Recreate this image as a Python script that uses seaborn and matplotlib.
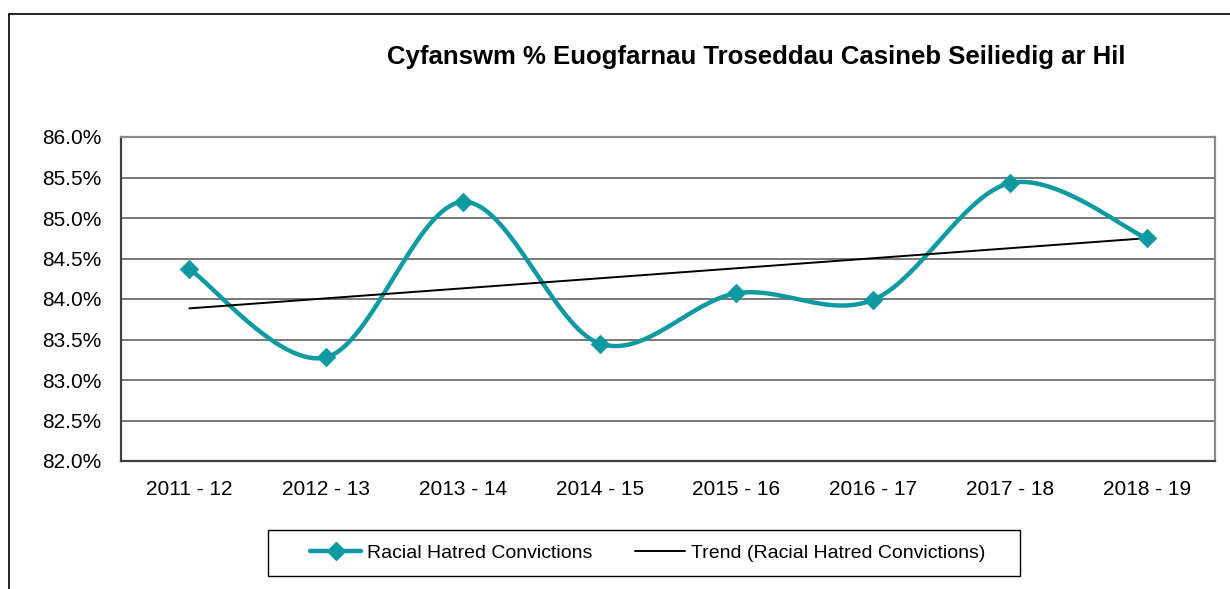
import matplotlib
matplotlib.use("Agg")
import matplotlib.pyplot as plt
from matplotlib.lines import Line2D
from matplotlib.patches import Rectangle
import numpy as np
import pandas as pd
import seaborn as sns

years = ["2011 - 12", "2012 - 13", "2013 - 14", "2014 - 15",
         "2015 - 16", "2016 - 17", "2017 - 18", "2018 - 19"]
convictions = [84.37, 83.28, 85.20, 83.45, 84.07, 83.99, 85.43, 84.75]
title = "Cyfanswm % Euogfarnau Troseddau Casineb Seiliedig ar Hil"
series_name = "Racial Hatred Convictions"
teal = "#0e9aa0"

sns.set_theme(style="white")
plt.rcParams['font.family'] = ['Liberation Sans', 'DejaVu Sans']
plt.rcParams['text.color'] = 'black'
plt.rcParams['xtick.color'] = 'black'
plt.rcParams['ytick.color'] = 'black'

df = pd.DataFrame({"idx": np.arange(len(years)), "pct": convictions})


# smooth curve like Excel's "smoothed line" (catmull-rom between the points)
def smooth(x, y, n=40):
    x = np.asarray(x, float)
    y = np.asarray(y, float)
    px = np.r_[x[0], x, x[-1]]
    py = np.r_[y[0], y, y[-1]]
    xs, ys = [], []
    for i in range(1, len(px) - 2):
        t = np.linspace(0, 1, n)
        bx = [px[i], px[i] + (px[i + 1] - px[i - 1]) / 6,
              px[i + 1] - (px[i + 2] - px[i]) / 6, px[i + 1]]
        by = [py[i], py[i] + (py[i + 1] - py[i - 1]) / 6,
              py[i + 1] - (py[i + 2] - py[i]) / 6, py[i + 1]]
        for b, out in ((bx, xs), (by, ys)):
            out.extend((1 - t) ** 3 * b[0] + 3 * (1 - t) ** 2 * t * b[1]
                       + 3 * (1 - t) * t ** 2 * b[2] + t ** 3 * b[3])
    return np.array(xs), np.array(ys)


sx, sy = smooth(df.idx, df.pct)

fig = plt.figure(figsize=(12.3, 5.89), dpi=100)
ax = fig.add_axes([121 / 1230, 1 - 461 / 589, (1215 - 121) / 1230, (461 - 137) / 589])

sns.lineplot(x=sx, y=sy, ax=ax, color=teal, lw=3.2, sort=False, estimator=None)
sns.scatterplot(x=df.idx, y=df.pct, ax=ax, marker="D", s=90, color=teal,
                edgecolor=teal, linewidth=0.5, zorder=4)
sns.regplot(x=df.idx, y=df.pct, ax=ax, scatter=False, ci=None,
            color="black", line_kws={"lw": 1.4, "zorder": 3})

ax.set_xlim(-0.5, 7.5)
ax.set_ylim(82, 86)
ax.set_yticks(np.arange(82, 86.01, 0.5))
ax.set_yticklabels([f"{v:.1f}%" for v in np.arange(82, 86.01, 0.5)])
ax.set_xticks(np.arange(-0.5, 7.6, 1))
ax.set_xticklabels([])
ax.set_xticks(np.arange(len(years)), minor=True)
ax.set_xticklabels(years, minor=True)
ax.tick_params(axis="x", which="major", length=6, width=1, color="#404040", direction="out")
ax.tick_params(axis="x", which="minor", length=0, pad=14, labelsize=15)
ax.tick_params(axis="y", length=6, width=1, color="#404040", direction="out",
               labelsize=15, pad=8)
ax.set_xlabel("")
ax.set_ylabel("")
ax.yaxis.grid(True, color="#555555", lw=1.1)
ax.set_axisbelow(True)
for side in ("left", "bottom"):
    ax.spines[side].set_color("#404040")
    ax.spines[side].set_linewidth(1.6)
for side in ("top", "right"):
    ax.spines[side].set_color("#8a8a8a")
    ax.spines[side].set_linewidth(1.6)

fig.text(756 / 1230, 1 - 57 / 589, title, ha="center", va="center",
         fontsize=18.5, fontweight="bold")

# outer chart frame (only the top and left edges are visible)
fig.add_artist(Line2D([9 / 1230, 1], [1 - 14 / 589] * 2, color="black", lw=1.2))
fig.add_artist(Line2D([9 / 1230] * 2, [0, 1 - 14 / 589], color="black", lw=1.2))

# legend box, drawn separately to get Excel's wide side padding
fig.add_artist(Rectangle((268 / 1230, 1 - 576 / 589), (1020 - 268) / 1230, 46 / 589,
                         transform=fig.transFigure, fill=False,
                         edgecolor="black", lw=1.0))
handles = [Line2D([], [], color=teal, lw=3.2, marker="D", ms=9),
           Line2D([], [], color="black", lw=1.4)]
fig.legend(handles, [series_name, f"Trend ({series_name})"], ncol=2,
           loc="center", bbox_to_anchor=(648 / 1230, 1 - 553 / 589),
           fontsize=14, frameon=False,
           handlelength=2.6, handletextpad=0.3, columnspacing=2.2)

fig.savefig("out.png", dpi=100)
